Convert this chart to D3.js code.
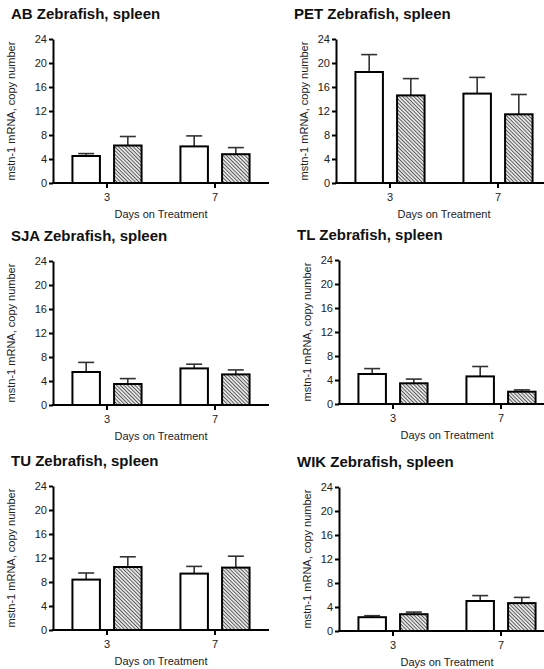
<!DOCTYPE html>
<html lang="en">
<head>
    <meta charset="UTF-8">
    <title>mstn-1 mRNA in zebrafish spleen</title>
    <script src="https://d3js.org/d3.v7.min.js"></script>
    <style>
        body {
            margin: 0;
            background: #fff;
        }
        svg {
            display: block;
            font-family: "Liberation Sans", Arial, sans-serif;
        }
        .axis path, .axis line {
            stroke: #000;
            stroke-width: 2px;
        }
        .axis text {
            font-size: 11px;
            fill: #222;
        }
        .title {
            font-size: 15px;
            font-weight: bold;
            fill: #111;
        }
        .axis-label {
            font-size: 11px;
            fill: #222;
        }
    </style>
</head>
<body>
    <svg width="544" height="669"></svg>

    <script>
        // values (upper error bar = mean + sem)
        const strains = ["AB", "PET", "SJA", "TL", "TU", "WIK"];
        const days = ["3", "7"];
        const yTicks = [0, 4, 8, 12, 16, 20, 24];

        const openMean  = [[4.5, 6.1], [18.5, 14.9], [5.5, 6.1], [5.0, 4.6], [8.4, 9.4], [2.3, 5.0]];
        const openSem   = [[0.4, 1.75], [2.9, 2.7], [1.6, 0.7], [0.9, 1.65], [1.1, 1.2], [0.25, 0.9]];
        const hatchMean = [[6.25, 4.8], [14.6, 11.45], [3.5, 5.1], [3.45, 2.05], [10.5, 10.4], [2.8, 4.65]];
        const hatchSem  = [[1.5, 1.1], [2.8, 3.3], [0.9, 0.75], [0.7, 0.3], [1.7, 1.9], [0.35, 0.95]];

        // where each small chart sits on the page
        const panels = [
            { ax: 53,  y0: 183, ylab: 42 },
            { ax: 336, y0: 183, ylab: 32 },
            { ax: 53,  y0: 405, ylab: 42 },
            { ax: 339, y0: 404, ylab: 32 },
            { ax: 53,  y0: 630, ylab: 42 },
            { ax: 339, y0: 631, ylab: 32 }
        ];
        const plotW = 216;
        const plotH = 144;

        const svg = d3.select("svg");

        const defs = svg.append("defs");
        const pat = defs.append("pattern")
            .attr("id", "hatch")
            .attr("patternUnits", "userSpaceOnUse")
            .attr("width", 2.6)
            .attr("height", 2.6)
            .attr("patternTransform", "rotate(45)");
        pat.append("rect").attr("width", 2.6).attr("height", 2.6).attr("fill", "#e4e4e4");
        pat.append("line")
            .attr("x1", 0).attr("y1", 1.3).attr("x2", 2.6).attr("y2", 1.3)
            .attr("stroke", "#555").attr("stroke-width", 0.9);

        const series = [
            { key: "open", mean: openMean, sem: openSem, fill: "#fff" },
            { key: "hatch", mean: hatchMean, sem: hatchSem, fill: "url(#hatch)" }
        ];

        strains.forEach((strain, i) => {
            const p = panels[i];
            const g = svg.append("g")
                .attr("transform", `translate(${p.ax},${p.y0 - plotH})`);

            const y = d3.scaleLinear().domain([0, 24]).range([plotH, 0]);
            const x = d3.scaleBand().domain(days).range([0, plotW]).paddingInner(0.36).paddingOuter(0.18);
            const xs = d3.scaleBand().domain(series.map(s => s.key)).range([0, x.bandwidth()]).paddingInner(0.34);

            // error bars first so the bar outline sits on top
            series.forEach(s => {
                const eg = g.append("g").selectAll("g")
                    .data(days.map((d, j) => ({ day: d, m: s.mean[i][j], e: s.sem[i][j] })))
                    .join("g")
                    .attr("transform", d => `translate(${x(d.day) + xs(s.key) + xs.bandwidth() / 2},0)`);
                eg.append("line")
                    .attr("y1", d => y(d.m)).attr("y2", d => y(d.m + d.e))
                    .attr("stroke", "#333").attr("stroke-width", 1.6);
                eg.append("line")
                    .attr("x1", -8).attr("x2", 8)
                    .attr("y1", d => y(d.m + d.e)).attr("y2", d => y(d.m + d.e))
                    .attr("stroke", "#333").attr("stroke-width", 1.6);
            });

            series.forEach(s => {
                g.append("g").selectAll("rect")
                    .data(days.map((d, j) => ({ day: d, m: s.mean[i][j] })))
                    .join("rect")
                    .attr("x", d => x(d.day) + xs(s.key))
                    .attr("y", d => y(d.m))
                    .attr("width", xs.bandwidth())
                    .attr("height", d => y(0) - y(d.m))
                    .attr("fill", s.fill)
                    .attr("stroke", "#000")
                    .attr("stroke-width", 2);
            });

            g.append("g")
                .attr("class", "axis")
                .call(d3.axisLeft(y).tickValues(yTicks).tickSize(4).tickPadding(2).tickSizeOuter(0));

            // x axis: category ticks at group centres
            const xAxis = g.append("g")
                .attr("class", "axis")
                .attr("transform", `translate(0,${plotH})`)
                .call(d3.axisBottom(x).tickSize(5).tickPadding(5).tickSizeOuter(0));
            xAxis.select(".domain").attr("d", `M-1,0H${plotW}`);

            g.append("text")
                .attr("class", "title")
                .attr("x", -42)
                .attr("y", -20)
                .text(`${strain} Zebrafish, spleen`);

            g.append("text")
                .attr("class", "axis-label")
                .attr("text-anchor", "middle")
                .attr("transform", `translate(${-p.ylab + 4},${plotH / 2}) rotate(-90)`)
                .text("mstn-1 mRNA, copy number");

            g.append("text")
                .attr("class", "axis-label")
                .attr("text-anchor", "middle")
                .attr("x", plotW / 2)
                .attr("y", plotH + 35)
                .text("Days on Treatment");
        });
    </script>
</body>
</html>
